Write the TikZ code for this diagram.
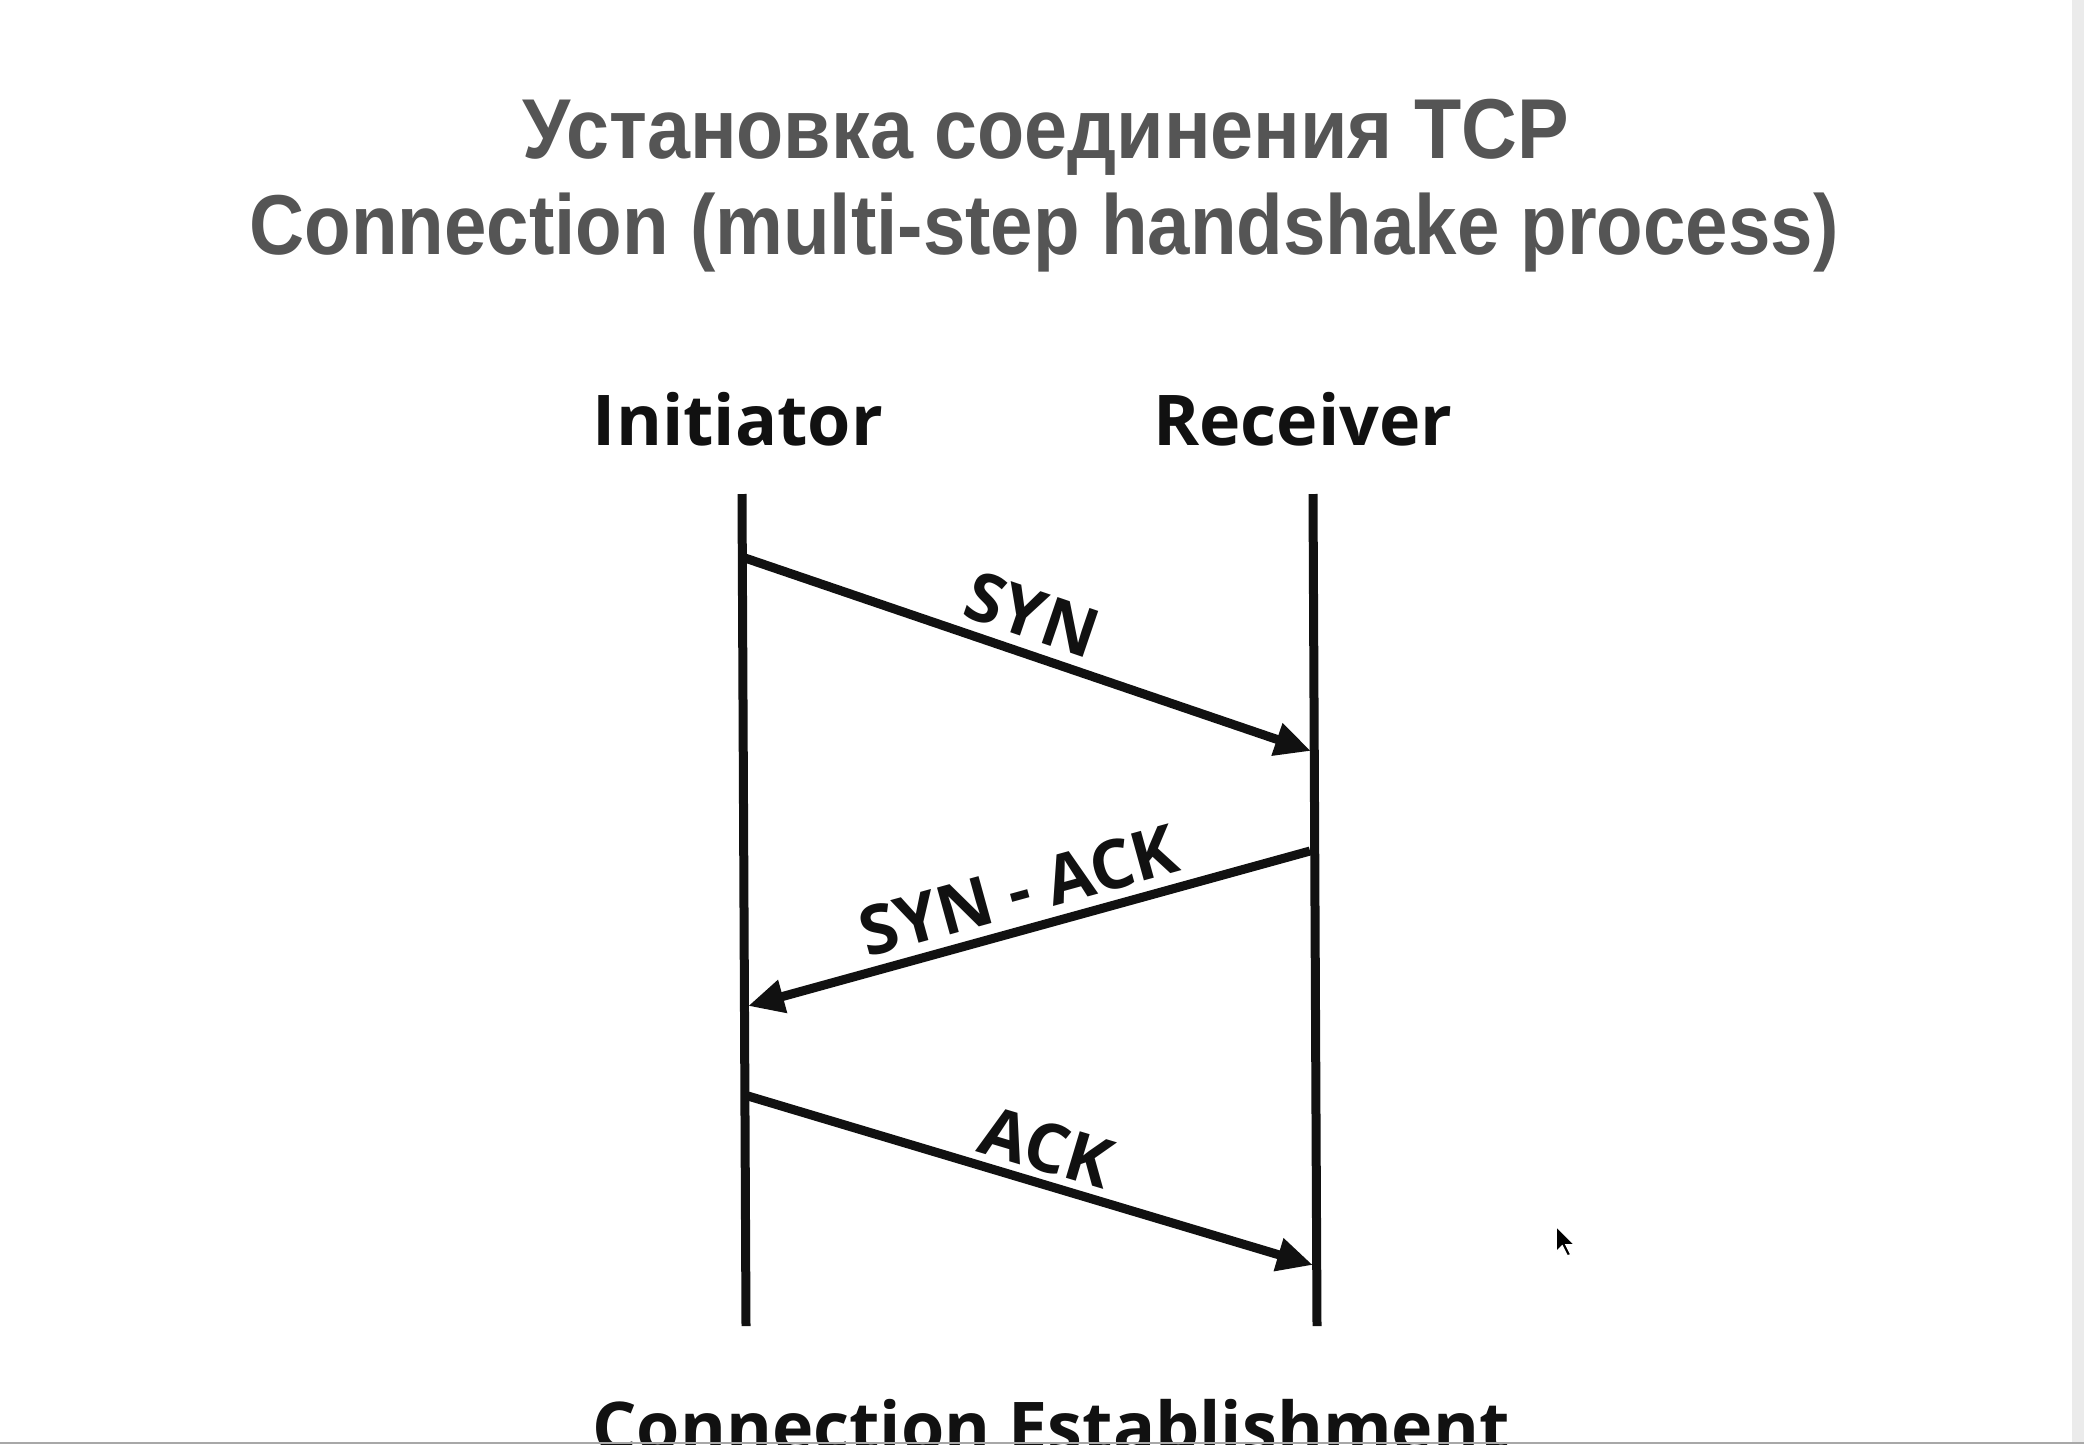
\documentclass[tikz,border=0pt]{standalone}
\usepackage{fontspec}
\usepackage{graphicx}
\setmainfont{Liberation Sans}
\newfontfamily\titlefont{Liberation Sans}
\newfontfamily\diagfont{Open Sans}
\usetikzlibrary{arrows.meta}
\definecolor{titlegrey}{HTML}{555555}
\definecolor{ink}{HTML}{111111}
\definecolor{stripgrey}{HTML}{EBEBEB}
\definecolor{bargrey}{HTML}{A8A8A8}
\begin{document}
\begin{tikzpicture}[x=1pt,y=-1pt,
  lifeline/.style={line width=9pt, draw=ink},
  msg/.style={line width=9pt, draw=ink, -{Triangle[length=36pt,width=32pt]}},
  msglabel/.style={sloped, above, font=\diagfont\bfseries\fontsize{68}{68}\selectfont, text=ink, inner sep=10pt},
  actor/.style={font=\diagfont\bfseries\fontsize{70}{70}\selectfont, text=ink, anchor=base, inner sep=0pt},
  titletext/.style={font=\titlefont\bfseries\fontsize{85}{85}\selectfont, text=titlegrey, anchor=base, inner sep=0pt}]
\useasboundingbox (0,0) rectangle (2084,1444);
\begin{scope}
\clip (0,0) rectangle (2084,1444);
\fill[white] (0,0) rectangle (2084,1444);
\fill[stripgrey] (2072,0) rectangle (2084,1444);

% titles
\node[titletext] (t1) at (1046,158) {\resizebox{1046pt}{\height}{Установка соединения TCP}};
\node[titletext] (t2) at (1044,254) {\resizebox{1589pt}{\height}{Connection (multi-step handshake process)}};

% actors
\node[actor] (init) at (738,445) {Initiator};
\node[actor] (recv) at (1303,445) {Receiver};

% lifelines
\coordinate (iTop) at (742,494);
\coordinate (iBot) at (746,1326);
\coordinate (rTop) at (1313,494);
\coordinate (rBot) at (1317,1326);
\draw[lifeline] (iTop) -- (iBot);
\draw[lifeline] (rTop) -- (rBot);

% message endpoints
\coordinate (synA) at (745,558);
\coordinate (synB) at (1311,751);
\coordinate (saA) at (1310,851);
\coordinate (saB) at (748,1006);
\coordinate (ackA) at (748,1096);
\coordinate (ackB) at (1313,1265);

\draw[msg] (synA) -- node[msglabel, pos=0.485] (synL) {SYN} (synB);
\draw[msg] (saA) -- node[msglabel, pos=0.5] (saL) {SYN - ACK} (saB);
\draw[msg] (ackA) -- node[msglabel, pos=0.51, inner sep=7pt] (ackL) {ACK} (ackB);

% bottom caption (cut off)
\node[actor] (est) at (1051,1452) {Connection Establishment};
\fill[bargrey] (0,1441.5) rectangle (2084,1444);

% mouse cursor
\draw[fill=black, draw=white, line width=1.5pt, shift={(1556,1226)}, scale=1.25]
  (0,0) -- (0,21) -- (5,16) -- (9,24) -- (12,23) -- (8,15) -- (15,15) -- cycle;
\end{scope}
\end{tikzpicture}
\end{document}
